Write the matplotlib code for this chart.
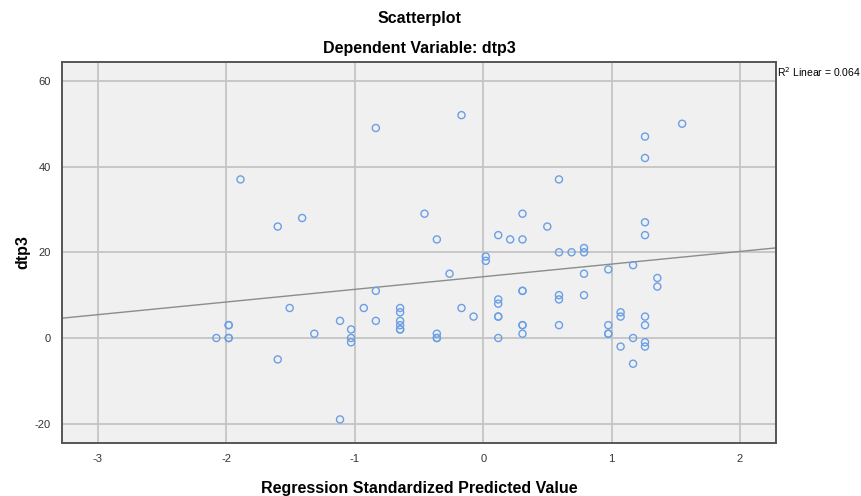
import numpy as np
import matplotlib
matplotlib.use("Agg")
import matplotlib.pyplot as plt

plt.rcParams['font.family'] = ['Liberation Sans', 'DejaVu Sans']

# Data (x = standardized predicted value, y = dtp3)
pred_levels = [-2.078, -1.982, -1.89, -1.60, -1.507, -1.41, -1.315, -1.115, -1.029,
               -0.93, -0.836, -0.647, -0.457, -0.361, -0.262, -0.169, -0.075, 0.02,
               0.117, 0.21, 0.306, 0.499, 0.59, 0.688, 0.785, 0.974, 1.07, 1.167,
               1.26, 1.356, 1.549]
dtp3_groups = [
    [0],
    [3, 3, 0, 0],
    [37],
    [26, -5],
    [7],
    [28],
    [1],
    [4, -19],
    [2, 0, -1],
    [7],
    [49, 11, 4],
    [7, 6, 4, 3, 2, 2],
    [29],
    [23, 1, 0, 0],
    [15],
    [52, 7],
    [5],
    [19, 18],
    [24, 9, 8, 5, 5, 0],
    [23],
    [29, 23, 11, 11, 3, 3, 1],
    [26],
    [37, 20, 10, 9, 3],
    [20],
    [21, 20, 15, 10],
    [16, 3, 1, 1],
    [6, 5, -2],
    [17, 0, -6],
    [47, 42, 27, 24, 5, 3, -1, -2],
    [14, 12],
    [50],
]
# Fit line
fit_intercept = 14.3
fit_slope = 2.95
x_ticks = [-3, -2, -1, 0, 1, 2]
y_ticks = [-20, 0, 20, 40, 60]
r2_text = "0.064"

x = np.concatenate([[p] * len(g) for p, g in zip(pred_levels, dtp3_groups)])
y = np.concatenate([g for g in dtp3_groups]).astype(float)

fig = plt.figure(figsize=(8.61, 4.96), dpi=100)
ax = fig.add_axes([62/861, 1 - 443/496, (776 - 62)/861, (443 - 62)/496])
ax.set_facecolor('#F0F0F0')

xlim = (-3.28, 2.28)
ylim = (-24.5, 64.4)
ax.set_xlim(*xlim)
ax.set_ylim(*ylim)

ax.set_xticks(x_ticks)
ax.set_yticks(y_ticks)
ax.set_xticklabels([str(t) for t in x_ticks])
ax.set_yticklabels([str(t) for t in y_ticks])
ax.grid(True, color='#C4C4C4', linewidth=1.3, zorder=0)
ax.set_axisbelow(True)
ax.tick_params(length=0, labelsize=8, colors='#333333', pad=8)

for sp in ax.spines.values():
    sp.set_color('#555555')
    sp.set_linewidth(1.4)

# regression line
xl = np.array(xlim)
ax.plot(xl, fit_intercept + fit_slope * xl, color='#8C8C8C', linewidth=1.0, zorder=2)

ax.scatter(x, y, s=26, facecolors='none', edgecolors='#6A9FE6', linewidths=1.0, zorder=3)

ax.set_xlabel('Regression Standardized Predicted Value', fontsize=11.5,
              fontweight='bold', labelpad=12)
ax.set_ylabel('dtp3', fontsize=11.5, fontweight='bold', labelpad=3)

fig.text(0.5 * (62 + 776) / 861, 1 - 18/496, 'Scatterplot', ha='center', va='center',
         fontsize=11.5, fontweight='bold')
fig.text(0.5 * (62 + 776) / 861, 1 - 49/496, 'Dependent Variable: dtp3', ha='center',
         va='center', fontsize=11.5, fontweight='bold')
fig.text(777/861, 1 - 72/496, 'R$^2$ Linear = ' + r2_text, ha='left', va='center',
         fontsize=7.5)

fig.savefig('out.png', dpi=100, facecolor='white')
